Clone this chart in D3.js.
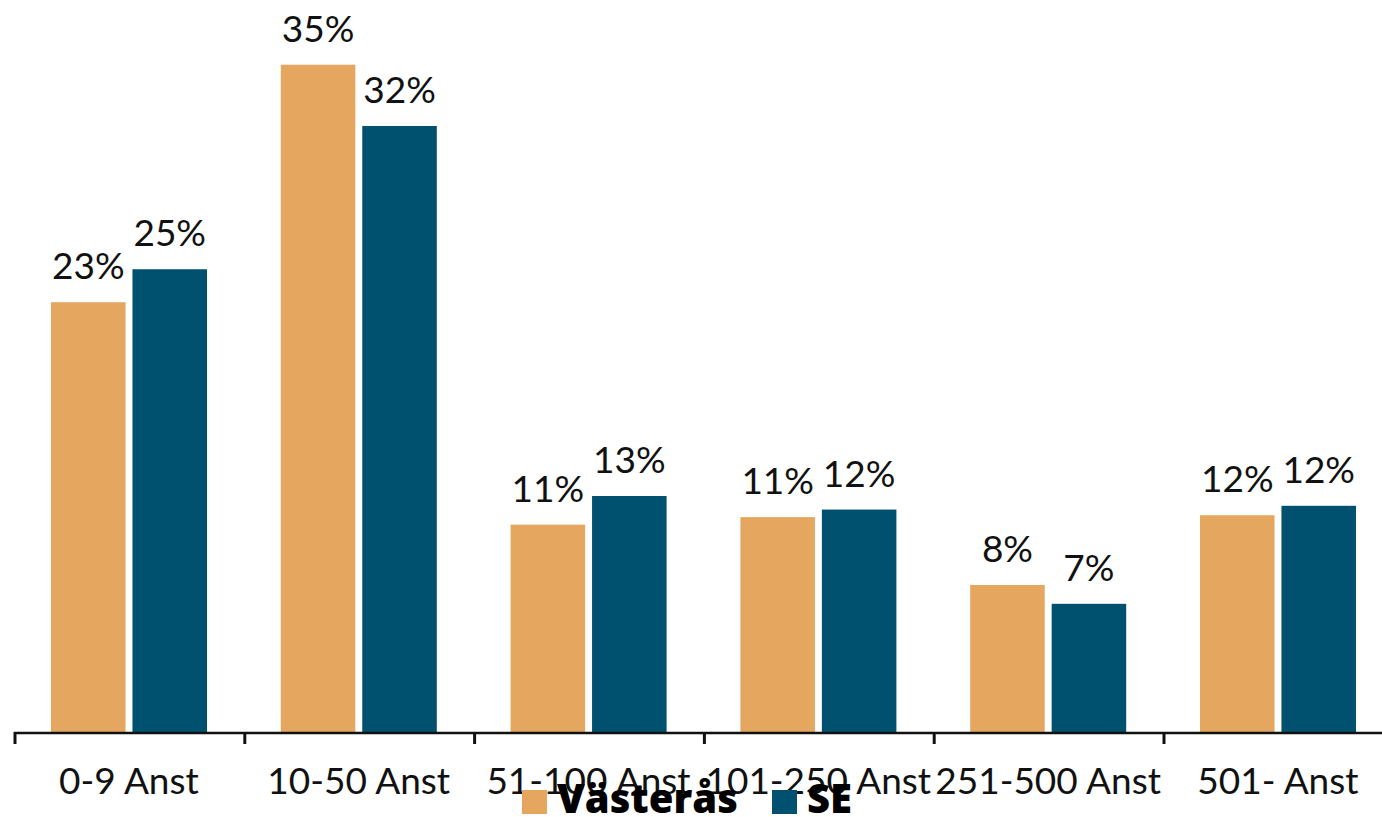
<!DOCTYPE html>
<html>
<head>
<meta charset="utf-8">
<script src="https://cdn.jsdelivr.net/npm/d3@7"></script>
<style>
  body { margin: 0; background: #fff; }
  svg { display: block; font-family: Lato, "Noto Sans", sans-serif; }
</style>
</head>
<body>
<svg width="1382" height="817"></svg>
<script>
var categories = ["0-9 Anst", "10-50 Anst", "51-100 Anst", "101-250 Anst", "251-500 Anst", "501- Anst"];
var seriesNames = ["Västerås", "SE"];
var vasteras = [0.228, 0.354, 0.110, 0.114, 0.078, 0.115];
var se = [0.2455, 0.3215, 0.1252, 0.118, 0.068, 0.120];
var colors = ["#E5A760", "#00516F"];

var svg = d3.select("svg");
var baseY = 732;

var x = d3.scaleBand()
    .domain(categories)
    .range([14, 14 + 6 * 229.8])
    .padding(0);

var xInner = d3.scaleBand()
    .domain(seriesNames)
    .range([37, 193])
    .paddingInner(0.085)
    .paddingOuter(0);

var y = d3.scaleLinear()
    .domain([0, 0.4])
    .range([baseY, baseY - 0.4 * 1885]);

var fmt = d3.format(".0%");

var rows = [];
categories.forEach(function(c, i) {
  rows.push({cat: c, s: seriesNames[0], v: vasteras[i], color: colors[0]});
  rows.push({cat: c, s: seriesNames[1], v: se[i], color: colors[1]});
});

svg.append("g")
   .selectAll("rect")
   .data(rows)
   .enter().append("rect")
   .attr("x", function(d) { return x(d.cat) + xInner(d.s); })
   .attr("y", function(d) { return y(d.v); })
   .attr("width", xInner.bandwidth())
   .attr("height", function(d) { return baseY - y(d.v); })
   .style("fill", function(d) { return d.color; });

svg.append("g")
   .selectAll("text")
   .data(rows)
   .enter().append("text")
   .attr("x", function(d) { return x(d.cat) + xInner(d.s) + xInner.bandwidth() / 2; })
   .attr("y", function(d) { return y(d.v) - 23; })
   .attr("text-anchor", "middle")
   .style("font-size", "37px")
   .style("fill", "#111")
   .text(function(d) { return fmt(d.v); });

// axis: labels centred, ticks on band edges
var axis = svg.append("g")
   .attr("transform", "translate(0," + baseY + ")")
   .call(d3.axisBottom(x).tickSize(0).tickPadding(0));
axis.select(".domain").remove();
axis.selectAll("text")
   .attr("y", 62)
   .attr("dy", 0)
   .style("font-size", "37px")
   .style("font-family", "Lato, 'Noto Sans', sans-serif")
   .style("fill", "#111");

axis.append("line")
   .attr("x1", x.range()[0])
   .attr("x2", x.range()[1])
   .attr("y1", 1)
   .attr("y2", 1)
   .style("stroke", "#111")
   .style("stroke-width", 2.5);

axis.selectAll(".edge")
   .data(categories)
   .enter().append("line")
   .attr("class", "edge")
   .attr("x1", function(d) { return x(d) + 1; })
   .attr("x2", function(d) { return x(d) + 1; })
   .attr("y1", 0)
   .attr("y2", 12)
   .style("stroke", "#111")
   .style("stroke-width", 3);

// legend
var legend = svg.append("g");
var legendX = [522, 772];
seriesNames.forEach(function(name, i) {
  legend.append("rect")
     .attr("x", legendX[i])
     .attr("y", 790)
     .attr("width", 25)
     .attr("height", 24)
     .style("fill", colors[i]);
  legend.append("text")
     .attr("x", legendX[i] + 35)
     .attr("y", 813)
     .style("font-family", "'Open Sans', Lato, sans-serif")
     .style("font-size", "40px")
     .style("font-weight", 800)
     .style("fill", "#000")
     .text(name);
});
</script>
</body>
</html>
